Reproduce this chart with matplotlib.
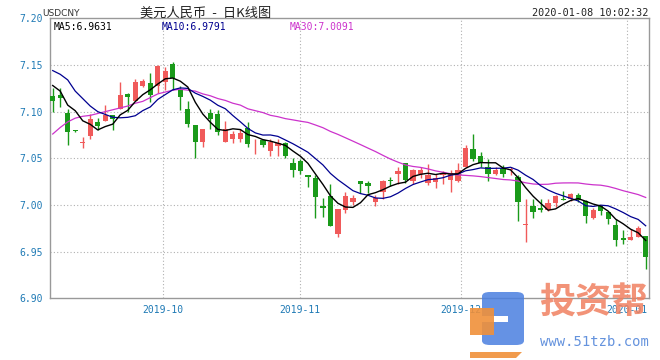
import matplotlib
matplotlib.use("Agg")
import matplotlib.pyplot as plt
from matplotlib.patches import FancyBboxPatch, Rectangle, Polygon
import numpy as np
import pandas as pd

plt.rcParams['font.family'] = ['DejaVu Sans', 'Noto Sans CJK SC']

opens = [7.117, 7.118, 7.099, 7.080, 7.066, 7.074, 7.089, 7.090, 7.096, 7.103,
         7.119, 7.111, 7.127, 7.131, 7.128, 7.132, 7.151, 7.123, 7.103, 7.086,
         7.067, 7.099, 7.097, 7.068, 7.071, 7.071, 7.082, 7.067, 7.070, 7.058,
         7.063, 7.066, 7.045, 7.047, 7.032, 7.029, 6.999, 7.010, 6.969, 6.995,
         7.003, 7.026, 7.024, 7.003, 7.014, 7.027, 7.033, 7.045, 7.026, 7.033,
         7.024, 7.025, 7.032, 7.027, 7.026, 7.041, 7.060, 7.052, 7.041, 7.033,
         7.040, 7.037, 7.030, 6.979, 6.999, 6.997, 6.995, 7.002, 7.006, 7.006,
         7.011, 7.004, 6.986, 6.999, 6.992, 6.979, 6.965, 6.962, 6.966, 6.967]
highs = [7.125, 7.125, 7.103, 7.080, 7.073, 7.098, 7.093, 7.107, 7.096, 7.132,
         7.120, 7.135, 7.135, 7.141, 7.150, 7.148, 7.153, 7.127, 7.111, 7.086,
         7.081, 7.103, 7.102, 7.090, 7.079, 7.081, 7.089, 7.071, 7.071, 7.071,
         7.071, 7.068, 7.050, 7.049, 7.032, 7.032, 7.008, 7.022, 6.996, 7.014,
         7.011, 7.026, 7.026, 7.011, 7.027, 7.030, 7.041, 7.045, 7.039, 7.041,
         7.044, 7.033, 7.036, 7.037, 7.045, 7.064, 7.076, 7.057, 7.049, 7.041,
         7.043, 7.041, 7.032, 7.006, 7.006, 7.006, 7.006, 7.011, 7.015, 7.013,
         7.013, 7.005, 6.997, 6.999, 6.993, 6.985, 6.973, 6.974, 6.977, 6.967]
lows = [7.100, 7.105, 7.064, 7.078, 7.061, 7.071, 7.080, 7.090, 7.080, 7.103,
        7.100, 7.111, 7.126, 7.110, 7.120, 7.123, 7.123, 7.102, 7.084, 7.050,
        7.062, 7.081, 7.075, 7.067, 7.066, 7.067, 7.062, 7.055, 7.062, 7.052,
        7.053, 7.050, 7.030, 7.033, 7.019, 6.986, 6.987, 6.977, 6.966, 6.991,
        7.000, 7.013, 7.013, 6.999, 7.006, 7.020, 7.023, 7.024, 7.023, 7.029,
        7.021, 7.018, 7.023, 7.014, 7.025, 7.041, 7.047, 7.041, 7.026, 7.032,
        7.030, 7.032, 6.983, 6.960, 6.986, 6.993, 6.994, 6.998, 7.005, 7.004,
        7.003, 6.981, 6.985, 6.989, 6.980, 6.956, 6.958, 6.962, 6.966, 6.931]
closes = [7.111, 7.115, 7.078, 7.079, 7.068, 7.092, 7.085, 7.096, 7.092, 7.118,
          7.116, 7.132, 7.133, 7.118, 7.149, 7.144, 7.136, 7.116, 7.087, 7.067,
          7.081, 7.092, 7.078, 7.081, 7.076, 7.077, 7.065, 7.068, 7.064, 7.068,
          7.066, 7.053, 7.038, 7.036, 7.030, 7.009, 6.997, 6.977, 6.996, 7.010,
          7.007, 7.022, 7.020, 7.007, 7.026, 7.026, 7.036, 7.027, 7.038, 7.037,
          7.032, 7.029, 7.034, 7.034, 7.038, 7.061, 7.049, 7.045, 7.033, 7.038,
          7.033, 7.039, 7.003, 6.980, 6.992, 6.995, 7.002, 7.010, 7.005, 7.012,
          7.005, 6.988, 6.995, 6.994, 6.985, 6.962, 6.963, 6.966, 6.975, 6.944]

# moving-average values at the start of the window (earlier data not shown)
ma5_head = [7.128, 7.122, 7.107, 7.101]
ma10_head = [7.144, 7.140, 7.134, 7.122, 7.114, 7.106, 7.100, 7.097, 7.094]
ma30_head = [7.076, 7.083, 7.089, 7.093, 7.095, 7.096, 7.098, 7.100, 7.102, 7.104,
             7.106, 7.109, 7.111, 7.115, 7.119, 7.121, 7.123, 7.124, 7.123, 7.122,
             7.119, 7.117, 7.114, 7.112, 7.109, 7.107, 7.103, 7.101, 7.099]

month_labels = ["2019-10", "2019-11", "2019-12", "2020-01"]
month_pos = [14.7, 32.9, 54.4, 76.5]
y_ticks = [6.90, 6.95, 7.00, 7.05, 7.10, 7.15, 7.20]

title = "美元人民币  -  日K线图"
symbol = "USDCNY"
stamp = "2020-01-08 10:02:32"
ma_text = ["MA5:6.9631", "MA10:6.9791", "MA30:7.0091"]
wm_name = "投资帮"
wm_url = "www.51tzb.com"

UP = '#F05A5A'
DOWN = '#1A9A1A'
LABEL = '#1f7ab5'
GRID = '#b0b0b0'

s = pd.Series(closes)
def ma(n, head):
    r = s.rolling(n).mean().to_numpy()
    r[:len(head)] = head
    return r
ma5 = ma(5, ma5_head)
ma10 = ma(10, ma10_head)
ma30 = ma(30, ma30_head)

fig = plt.figure(figsize=(6.6, 3.6), dpi=100)
ax = fig.add_axes([50/660, 1-298.3/360, 599/660, 280/360])
n = len(closes)
x = np.arange(n)
ax.set_xlim(-0.36, n - 0.56)
ax.set_ylim(6.90, 7.20)

for yv in y_ticks[1:-1]:
    ax.axhline(yv, color=GRID, lw=0.8, ls=(0, (1, 2)), zorder=0)
for xv in month_pos:
    ax.axvline(xv, color=GRID, lw=0.8, ls=(0, (1, 2)), zorder=0)

o = np.array(opens); c = np.array(closes); h = np.array(highs); l = np.array(lows)
cols = np.where(c >= o, UP, DOWN)
ax.vlines(x, l, h, colors=cols, lw=1.0, zorder=2)
body_h = np.maximum(np.abs(c - o), 0.0009)
ax.bar(x, body_h, bottom=np.minimum(o, c), width=0.7, color=cols, lw=0, zorder=3)

ax.plot(x, ma30, color='#CC33CC', lw=0.9, zorder=4)
ax.plot(x, ma10, color='#000090', lw=0.9, zorder=4)
ax.plot(x, ma5, color='black', lw=1.0, zorder=5)

for sp in ax.spines.values():
    sp.set_color('#999999')
    sp.set_linewidth(1.0)

mono = 'DejaVu Sans Mono'
ax.set_yticks(y_ticks)
ax.set_yticklabels([f"{v:.2f}" for v in y_ticks], family=mono, fontsize=7, color=LABEL)
ax.set_xticks(month_pos)
ax.set_xticklabels(month_labels, family=mono, fontsize=7, color=LABEL)
ax.tick_params(length=0, pad=5)

# header
fig.text(42/660, 1-13/360, symbol, fontsize=6.5, color='#333333', va='center', ha='left')
fig.text(140/660, 1-13/360, title, fontsize=9.5, color='#222222', va='center', ha='left',
         family=['Noto Sans CJK SC', 'DejaVu Sans'])
fig.text(648/660, 1-13/360, stamp, fontsize=7.3, family=mono, color='#222222', va='center', ha='right')
for t, xp, col in zip(ma_text, [54, 162, 290], ['black', '#000090', '#CC33CC']):
    fig.text(xp/660, 1-27/360, t, fontsize=7, family=mono, color=col, va='center', ha='left')

# watermark logo (simple shapes) and texts
W, H = 660, 360
def fx(px): return px / W
def fy(py): return 1 - py / H
fig.patches.append(FancyBboxPatch((fx(482), fy(345)), fx(42), (fy(292) - fy(345)),
                                  boxstyle="round,pad=0,rounding_size=0.012",
                                  transform=fig.transFigure, fc='#4a7fe0', ec='none', alpha=0.85))
fig.patches.append(Rectangle((fx(482), fy(322)), fx(26), (fy(316) - fy(322)),
                             transform=fig.transFigure, fc='white', ec='none'))
fig.patches.append(Rectangle((fx(470), fy(335)), fx(24), (fy(308) - fy(335)),
                             transform=fig.transFigure, fc='#f0903a', ec='none', alpha=0.9))
fig.patches.append(Polygon([(fx(470), fy(352)), (fx(522), fy(352)), (fx(516), fy(358)), (fx(470), fy(358))],
                           closed=True, transform=fig.transFigure, fc='#f0903a', ec='none', alpha=0.9))
fig.text(593/660, 1-303/360, wm_name, fontsize=26, color='#F08060', alpha=0.85,
         ha='center', va='center', family=['Noto Sans CJK SC'], weight='bold')
fig.text(594/660, 1-342/360, wm_url, fontsize=10, color='#4a80d8', alpha=0.85,
         ha='center', va='center', family=mono)

fig.savefig('out.png', dpi=100)
